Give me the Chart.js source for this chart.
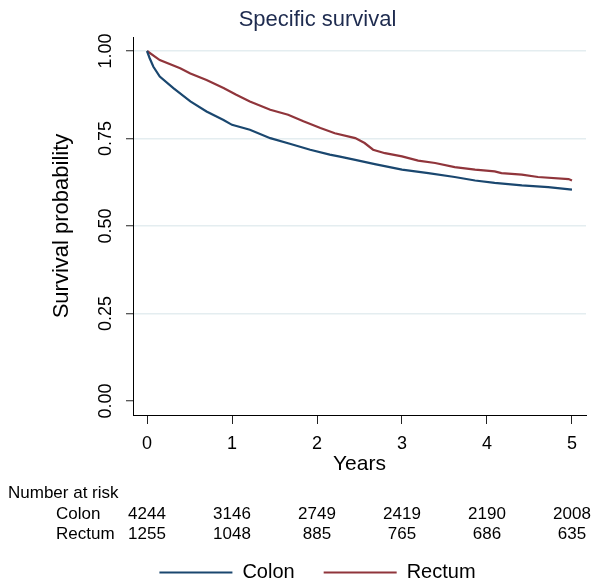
<!DOCTYPE html>
<html>
<head>
<meta charset="utf-8">
<script src="https://cdn.jsdelivr.net/npm/chart.js@4/dist/chart.umd.min.js"></script>
<style>
  html, body { margin: 0; padding: 0; background: #ffffff; }
  #wrap { width: 593px; height: 588px; }
</style>
</head>
<body>
<div id="wrap"><canvas id="c" width="593" height="588"></canvas></div>
<script>
// ---- data ----
const colonTimes = [0, 0.03, 0.075, 0.15, 0.31, 0.51, 0.70, 0.90, 1.0, 1.21, 1.45, 1.68, 1.92, 2.15, 2.27, 2.45, 2.68, 3.0, 3.31, 3.62, 3.86, 4.09, 4.41, 4.72, 5.0];
const colonSurv  = [1.0, 0.98, 0.955, 0.927, 0.894, 0.856, 0.827, 0.803, 0.789, 0.775, 0.751, 0.735, 0.718, 0.704, 0.698, 0.689, 0.677, 0.661, 0.651, 0.640, 0.630, 0.623, 0.616, 0.611, 0.604];

const rectumTimes = [0, 0.15, 0.39, 0.51, 0.70, 0.90, 1.05, 1.21, 1.45, 1.66, 1.84, 2.04, 2.21, 2.45, 2.56, 2.66, 2.80, 3.0, 3.19, 3.39, 3.62, 3.86, 4.09, 4.17, 4.41, 4.6, 4.96, 5.0];
const rectumSurv  = [1.0, 0.974, 0.951, 0.936, 0.917, 0.894, 0.875, 0.856, 0.832, 0.818, 0.799, 0.780, 0.765, 0.751, 0.737, 0.718, 0.708, 0.699, 0.687, 0.680, 0.668, 0.661, 0.656, 0.651, 0.647, 0.640, 0.634, 0.630];

const xTickValues = [0, 1, 2, 3, 4, 5];
const yTickValues = [0, 0.25, 0.5, 0.75, 1.0];

const riskTimes   = [0, 1, 2, 3, 4, 5];
const colonAtRisk = [4244, 3146, 2749, 2419, 2190, 2008];
const rectumAtRisk = [1255, 1048, 885, 765, 686, 635];

const seriesNames = ['Colon', 'Rectum'];
const titleText = 'Specific survival';

// ---- styling ----
const FONT = "'Liberation Sans', Arial, Helvetica, sans-serif";
const COLON_COLOR = '#1a476f';
const RECTUM_COLOR = '#90353b';
const GRID_COLOR = '#e4edf0';

Chart.defaults.font.family = FONT;
Chart.defaults.color = '#000000';

const toPoints = (xs, ys) => xs.map((x, i) => ({ x: x, y: ys[i] }));

const riskTablePlugin = {
  id: 'riskTable',
  afterDraw(chart) {
    const ctx = chart.ctx;
    const xs = chart.scales.x;
    ctx.save();
    ctx.fillStyle = '#000000';
    ctx.font = '17px ' + FONT;
    ctx.textBaseline = 'alphabetic';
    ctx.textAlign = 'left';
    ctx.fillText('Number at risk', 8, 498);
    ctx.fillText(seriesNames[0], 56, 519);
    ctx.fillText(seriesNames[1], 56, 539);
    ctx.textAlign = 'center';
    riskTimes.forEach((t, i) => {
      const px = xs.getPixelForValue(t);
      ctx.fillText(String(colonAtRisk[i]), px, 519);
      ctx.fillText(String(rectumAtRisk[i]), px, 539);
    });
    ctx.restore();
  }
};

new Chart(document.getElementById('c'), {
  type: 'line',
  data: {
    datasets: [
      {
        label: seriesNames[0],
        data: toPoints(colonTimes, colonSurv),
        borderColor: COLON_COLOR,
        backgroundColor: COLON_COLOR,
        borderWidth: 2.2,
        pointRadius: 0,
        tension: 0,
        fill: false
      },
      {
        label: seriesNames[1],
        data: toPoints(rectumTimes, rectumSurv),
        borderColor: RECTUM_COLOR,
        backgroundColor: RECTUM_COLOR,
        borderWidth: 2.2,
        pointRadius: 0,
        tension: 0,
        fill: false
      }
    ]
  },
  options: {
    responsive: false,
    animation: false,
    devicePixelRatio: 1,
    layout: { padding: { left: 49, right: 7, top: 0, bottom: -4.5 } },
    plugins: {
      title: {
        display: true,
        text: titleText,
        color: '#1e2b4f',
        font: { size: 22, weight: 'normal', family: FONT },
        padding: { top: 7, bottom: 3.6 }
      },
      legend: {
        display: true,
        position: 'bottom',
        labels: {
          boxWidth: 73,
          boxHeight: 2,
          padding: 29,
          color: '#000000',
          font: { size: 20, family: FONT },
          generateLabels(chart) {
            const items = Chart.defaults.plugins.legend.labels.generateLabels(chart);
            return items.map(it => Object.assign(it, { lineWidth: 0, fillStyle: it.strokeStyle }));
          }
        }
      },
      tooltip: { enabled: false }
    },
    scales: {
      x: {
        type: 'linear',
        min: -0.165,
        max: 5.165,
        afterBuildTicks(s) { s.ticks = xTickValues.map(v => ({ value: v })); },
        afterFit(s) { s.height = 118.5; },
        ticks: {
          font: { size: 18 },
          color: '#000000',
          padding: 9,
          callback: v => String(v)
        },
        grid: {
          display: true,
          drawOnChartArea: false,
          drawTicks: true,
          tickLength: 9,
          tickColor: '#222222',
          tickWidth: 1
        },
        border: { display: true, color: '#000000', width: 1 },
        title: {
          display: true,
          text: 'Years',
          color: '#000000',
          font: { size: 21 },
          padding: { top: 0, bottom: 57 }
        }
      },
      y: {
        type: 'linear',
        min: -0.04,
        max: 1.04,
        afterBuildTicks(s) { s.ticks = yTickValues.map(v => ({ value: v })); },
        afterFit(s) { s.width = 84; },
        ticks: {
          font: { size: 18 },
          color: '#000000',
          minRotation: 90,
          maxRotation: 90,
          crossAlign: 'center',
          padding: 2.5,
          callback: v => Number(v).toFixed(2)
        },
        grid: {
          display: true,
          drawOnChartArea: true,
          drawTicks: true,
          tickLength: 7,
          lineWidth: 1.5,
          color: ctx => (ctx.tick && ctx.tick.value === 0) ? 'rgba(0,0,0,0)' : GRID_COLOR,
          tickColor: '#222222',
          tickWidth: 1
        },
        border: { display: true, color: '#000000', width: 1 },
        title: {
          display: true,
          text: 'Survival probability',
          color: '#000000',
          font: { size: 22 },
          padding: { top: 0, bottom: 0 }
        }
      }
    }
  },
  plugins: [riskTablePlugin]
});
</script>
</body>
</html>
